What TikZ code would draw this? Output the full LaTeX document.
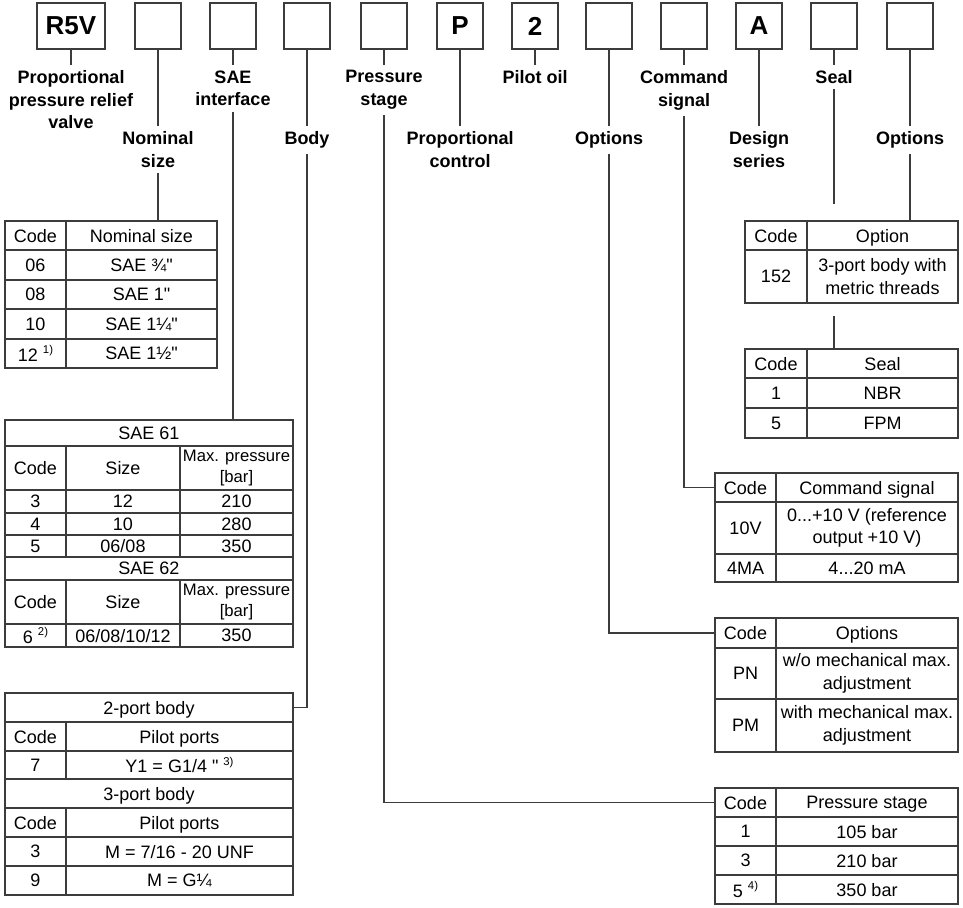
\documentclass[tikz,border=0pt]{standalone}
\usepackage{fontspec}
\setmainfont{Liberation Sans}[Ligatures=TeXOff]
\usepackage{xcolor}
\usetikzlibrary{positioning}
\newcommand{\pxu}{0.75pt}
\newcommand{\fnote}[1]{\raisebox{0.42em}{\fontsize{8.5}{9}\selectfont #1}}
% table cell: [style]{name}{x1}{y1}{x2}{y2}{text}
\newcommand{\tcell}[7][]{\node[cell, minimum width={(#5-#3)*\pxu}, minimum height={(#6-#4)*\pxu}, #1] (#2) at ({(#3+#5)/2},{(#4+#6)/2}) {#7};}
\definecolor{rulegray}{HTML}{3C3C3C}
\tikzset{
  codebox/.style={draw=rulegray, line width=1.5pt, minimum width=46*\pxu, minimum height=46*\pxu, inner sep=0pt, font=\fontsize{19.5}{22}\selectfont\bfseries},
  lab/.style={align=center, inner sep=4pt, font=\fontsize{13.5}{17}\selectfont\bfseries},
  cell/.style={draw=rulegray, line width=1pt, inner sep=0pt, align=center, text depth=0pt, font=\fontsize{13.5}{17}\selectfont},
  twoline/.style={text depth={}},
  smallcell/.style={twoline, font=\fontsize{12.5}{16}\selectfont},
  link/.style={draw=rulegray, line width=1pt}
}

\begin{document}
\begin{tikzpicture}[x=0.75pt, y=-0.75pt]
  \useasboundingbox (0,0) rectangle (963,907);

  % ordering code boxes
  \node[codebox, minimum width=68*\pxu] (br5v) at (71,26) {R5V};
  \node[codebox] (bnom) at (158,26) {};
  \node[codebox] (bsae) at (233,26) {};
  \node[codebox] (bbody) at (307,26) {};
  \node[codebox] (bpres) at (384,26) {};
  \node[codebox] (bp) at (460,26) {P};
  \node[codebox] (b2) at (535,26) {2};
  \node[codebox] (bopt) at (609,26) {};
  \node[codebox] (bcmd) at (684,26) {};
  \node[codebox] (ba) at (759,26) {A};
  \node[codebox] (bseal) at (834,26) {};
  \node[codebox] (bopt2) at (910,26) {};

  % labels
  \node[lab, anchor=north] (lr5v) at (71,65) {Proportional\\pressure relief\\valve};
  \node[lab, anchor=north] (lnom) at (158,126) {Nominal\\size};
  \node[lab, anchor=north] (lsae) at (233,65) {SAE\\interface};
  \node[lab, anchor=north] (lbody) at (307,126) {Body};
  \node[lab, anchor=north] (lpres) at (384,65) {Pressure\\stage};
  \node[lab, anchor=north] (lprop) at (460,126) {Proportional\\control};
  \node[lab, anchor=north] (lpil) at (535,65) {Pilot oil};
  \node[lab, anchor=north] (lopt) at (609,126) {Options};
  \node[lab, anchor=north] (lcmd) at (684,65) {Command\\signal};
  \node[lab, anchor=north] (ldes) at (759,126) {Design\\series};
  \node[lab, anchor=north] (lseal) at (834,65) {Seal};
  \node[lab, anchor=north] (lopt2) at (910,126) {Options};

  % nominal size
  \tcell{nomc}{5}{221}{66}{250}{Code}
  \tcell{nomh}{66}{221}{217}{250}{Nominal size}
  \tcell{nom1a}{5}{250}{66}{280}{06}
  \tcell{nom1b}{66}{250}{217}{280}{SAE ¾"}
  \tcell{nom2a}{5}{280}{66}{309}{08}
  \tcell{nom2b}{66}{280}{217}{309}{SAE 1"}
  \tcell{nom3a}{5}{309}{66}{339}{10}
  \tcell{nom3b}{66}{309}{217}{339}{SAE 1¼"}
  \tcell{nom4a}{5}{339}{66}{368}{12 \fnote{1)}}
  \tcell{nom4b}{66}{339}{217}{368}{SAE 1½"}

  % SAE interface
  \tcell{sae61}{5}{420}{293}{446}{SAE 61}
  \tcell{s61c}{5}{446}{66}{490}{Code}
  \tcell{s61s}{66}{446}{180}{490}{Size}
  \tcell[smallcell]{s61p}{180}{446}{293}{490}{Max. pressure\\{[bar]}}
  \tcell{s3a}{5}{490}{66}{513}{3}
  \tcell{s3b}{66}{490}{180}{513}{12}
  \tcell{s3c}{180}{490}{293}{513}{210}
  \tcell{s4a}{5}{513}{66}{535}{4}
  \tcell{s4b}{66}{513}{180}{535}{10}
  \tcell{s4c}{180}{513}{293}{535}{280}
  \tcell{s5a}{5}{535}{66}{557}{5}
  \tcell{s5b}{66}{535}{180}{557}{06/08}
  \tcell{s5c}{180}{535}{293}{557}{350}
  \tcell{sae62}{5}{557}{293}{580}{SAE 62}
  \tcell{s62c}{5}{580}{66}{624}{Code}
  \tcell{s62s}{66}{580}{180}{624}{Size}
  \tcell[smallcell]{s62p}{180}{580}{293}{624}{Max. pressure\\{[bar]}}
  \tcell{s6a}{5}{624}{66}{647}{6 \fnote{2)}}
  \tcell{s6b}{66}{624}{180}{647}{06/08/10/12}
  \tcell{s6c}{180}{624}{293}{647}{350}

  % body
  \tcell{port2}{5}{693}{293}{722}{2-port body}
  \tcell{p2c}{5}{722}{66}{751}{Code}
  \tcell{p2h}{66}{722}{293}{751}{Pilot ports}
  \tcell{p2a}{5}{751}{66}{779}{7}
  \tcell{p2b}{66}{751}{293}{779}{Y1 = G1/4 " \fnote{3)}}
  \tcell{port3}{5}{779}{293}{808}{3-port body}
  \tcell{p3c}{5}{808}{66}{837}{Code}
  \tcell{p3h}{66}{808}{293}{837}{Pilot ports}
  \tcell{p3a}{5}{837}{66}{866}{3}
  \tcell{p3b}{66}{837}{293}{866}{M = 7/16 - 20 UNF}
  \tcell{p9a}{5}{866}{66}{895}{9}
  \tcell{p9b}{66}{866}{293}{895}{M = G¼}

  % option 152
  \tcell{optc}{745}{221}{807}{250}{Code}
  \tcell{opth}{807}{221}{958}{250}{Option}
  \tcell{opta}{745}{250}{807}{303}{152}
  \tcell[twoline]{optb}{807}{250}{958}{303}{3-port body with\\metric threads}

  % seal
  \tcell{sealc}{745}{349}{807}{378}{Code}
  \tcell{sealh}{807}{349}{958}{378}{Seal}
  \tcell{seal1a}{745}{378}{807}{408}{1}
  \tcell{seal1b}{807}{378}{958}{408}{NBR}
  \tcell{seal5a}{745}{408}{807}{438}{5}
  \tcell{seal5b}{807}{408}{958}{438}{FPM}

  % command signal
  \tcell{cmdc}{715}{473}{776}{502}{Code}
  \tcell{cmdh}{776}{473}{958}{502}{Command signal}
  \tcell{cmd1a}{715}{502}{776}{554}{10V}
  \tcell[twoline]{cmd1b}{776}{502}{958}{554}{0...+10 V (reference\\output +10 V)}
  \tcell{cmd2a}{715}{554}{776}{582}{4MA}
  \tcell{cmd2b}{776}{554}{958}{582}{4...20 mA}

  % options
  \tcell{optnc}{715}{618}{776}{648}{Code}
  \tcell{optnh}{776}{618}{958}{648}{Options}
  \tcell{pna}{715}{648}{776}{699}{PN}
  \tcell[twoline]{pnb}{776}{648}{958}{699}{w/o mechanical max.\\adjustment}
  \tcell{pma}{715}{699}{776}{752}{PM}
  \tcell[twoline]{pmb}{776}{699}{958}{752}{with mechanical max.\\adjustment}

  % pressure stage
  \tcell{presc}{715}{788}{776}{817}{Code}
  \tcell{presh}{776}{788}{958}{817}{Pressure stage}
  \tcell{pr1a}{715}{817}{776}{846}{1}
  \tcell{pr1b}{776}{817}{958}{846}{105 bar}
  \tcell{pr3a}{715}{846}{776}{875}{3}
  \tcell{pr3b}{776}{846}{958}{875}{210 bar}
  \tcell{pr5a}{715}{875}{776}{904}{5 \fnote{4)}}
  \tcell{pr5b}{776}{875}{958}{904}{350 bar}

  \coordinate (sealcut1) at (834,204);
  \coordinate (sealcut2) at (834,316);

  % connectors
  \draw[link] (br5v) -- (lr5v);
  \draw[link] (bnom) -- (lnom);
  \draw[link] (lnom) -- (lnom |- nomh.north);
  \draw[link] (bsae) -- (lsae);
  \draw[link] (lsae) -- (lsae |- sae61.north);
  \draw[link] (bbody) -- (lbody);
  \draw[link] (lbody) |- (port2);
  \draw[link] (bpres) -- (lpres);
  \draw[link] (lpres) |- (presc);
  \draw[link] (bp) -- (lprop);
  \draw[link] (b2) -- (lpil);
  \draw[link] (bopt) -- (lopt);
  \draw[link] (lopt) |- (optnc);
  \draw[link] (bcmd) -- (lcmd);
  \draw[link] (lcmd) |- (cmdc);
  \draw[link] (ba) -- (ldes);
  \draw[link] (bseal) -- (lseal);
  \draw[link] (lseal) -- (sealcut1);
  \draw[link] (sealcut2) -- (sealcut2 |- sealh.north);
  \draw[link] (bopt2) -- (lopt2);
  \draw[link] (lopt2) -- (lopt2 |- opth.north);
\end{tikzpicture}
\end{document}
